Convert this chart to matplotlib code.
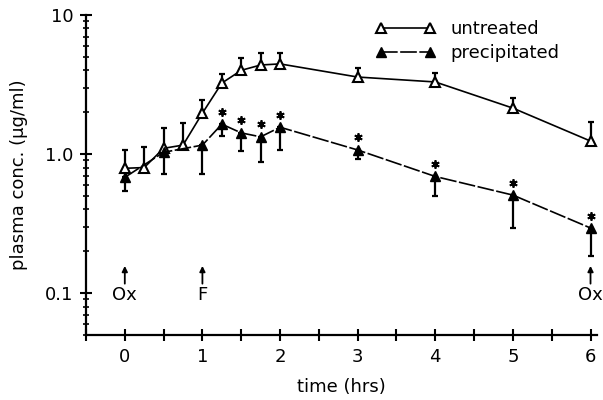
import matplotlib
matplotlib.use('Agg')
import matplotlib.pyplot as plt
from matplotlib.ticker import FixedLocator, NullFormatter, FixedFormatter
from matplotlib.transforms import offset_copy

plt.rcParams['font.family'] = ['DejaVu Sans']

# data
t_untreated = [0, 0.25, 0.5, 0.75, 1, 1.25, 1.5, 1.75, 2, 3, 4, 5, 6]
c_untreated = [0.79, 0.80, 1.10, 1.16, 1.97, 3.24, 4.0, 4.37, 4.45, 3.58, 3.30, 2.14, 1.24]
up_untreated = [1.07, 1.13, 1.54, 1.67, 2.45, 3.76, 4.9, 5.33, 5.33, 4.16, 3.83, 2.53, 1.70]

t_precip = [0, 0.5, 1, 1.25, 1.5, 1.75, 2, 3, 4, 5, 6]
c_precip = [0.68, 1.03, 1.16, 1.64, 1.42, 1.33, 1.56, 1.07, 0.69, 0.507, 0.294]
lo_precip = [0.54, 0.72, 0.72, 1.35, 1.05, 0.876, 1.07, 0.92, 0.50, 0.294, 0.185]
signif = [False, False, False, True, True, True, True, True, True, True, True]

events_t = [0, 1, 6]
events_lbl = ['Ox', 'F', 'Ox']

fig = plt.figure(figsize=(6.03, 4.0), dpi=100)
ax = fig.add_axes([0.1426, 0.1625, 0.847, 0.80])

# error bars: upper only for untreated, lower only for precipitated
err_u = [[0] * len(c_untreated), [u - c for u, c in zip(up_untreated, c_untreated)]]
err_p = [[c - l for l, c in zip(lo_precip, c_precip)], [0] * len(c_precip)]

ax.errorbar(t_untreated, c_untreated, yerr=err_u, fmt='none', ecolor='black',
            elinewidth=1.6, capsize=2.5, capthick=1.6, zorder=2)
ax.errorbar(t_precip, c_precip, yerr=err_p, fmt='none', ecolor='black',
            elinewidth=1.6, capsize=2.5, capthick=1.6, zorder=2)

ax.plot(t_untreated, c_untreated, color='black', lw=1.2, marker='^', ms=7,
        mfc='white', mec='black', mew=1.5, label='untreated', zorder=3)
ax.plot(t_precip, c_precip, color='black', lw=1.2, ls=(0, (10, 1.5)), marker='^',
        ms=7, mfc='black', mec='black', label='precipitated', zorder=4)

# significance asterisks just above the filled triangles
star_tr = offset_copy(ax.transData, fig=fig, x=0, y=9, units='points')
ts = [t for t, s in zip(t_precip, signif) if s]
cs = [c for c, s in zip(c_precip, signif) if s]
ax.plot(ts, cs, ls='none', marker=(6, 2, 0), ms=6, mew=1.3, color='black',
        transform=star_tr, zorder=4)

for t, lbl in zip(events_t, events_lbl):
    ax.annotate('', xy=(t, 0.157), xytext=(t, 0.117),
                arrowprops=dict(arrowstyle='-|>', color='black', lw=1.3,
                                mutation_scale=8, shrinkA=0, shrinkB=0))
    ax.text(t, 0.097, lbl, ha='center', va='center', fontsize=13)

ax.set_yscale('log')
ax.set_xlim(-0.5, 6.08)
ax.set_ylim(0.05, 10)

ax.yaxis.set_major_locator(FixedLocator([0.1, 1, 10]))
ax.yaxis.set_major_formatter(FixedFormatter(['0.1', '1.0', '10']))
minors = [m * 0.01 * 10 ** k for k in range(0, 3) for m in range(2, 10)]
minors = [v for v in minors if 0.05 <= v <= 10]
ax.yaxis.set_minor_locator(FixedLocator(minors))
ax.yaxis.set_minor_formatter(NullFormatter())

ax.set_xticks([0, 1, 2, 3, 4, 5, 6])
ax.set_xticks([-0.5, 0.5, 1.5, 2.5, 3.5, 4.5, 5.5], minor=True)

ax.tick_params(axis='both', which='major', direction='inout', length=8, width=1.5,
               labelsize=13, pad=5)
ax.tick_params(axis='y', which='minor', direction='inout', length=5, width=1.2)
ax.tick_params(axis='x', which='minor', direction='inout', length=8, width=1.5)

for side in ['top', 'right']:
    ax.spines[side].set_visible(False)
for side in ['left', 'bottom']:
    ax.spines[side].set_linewidth(1.6)

ax.set_xlabel('time (hrs)', fontsize=13, labelpad=9)
ax.set_ylabel('plasma conc. (μg/ml)', fontsize=13, labelpad=12)

ax.legend(loc='upper left', bbox_to_anchor=(376 / 603, 1 - 20 / 400),
          bbox_transform=fig.transFigure, frameon=False, numpoints=2,
          borderpad=0, borderaxespad=0, handlelength=3.3, fontsize=13,
          labelspacing=0.35, handletextpad=0.8)

fig.savefig('out.png', dpi=100)
